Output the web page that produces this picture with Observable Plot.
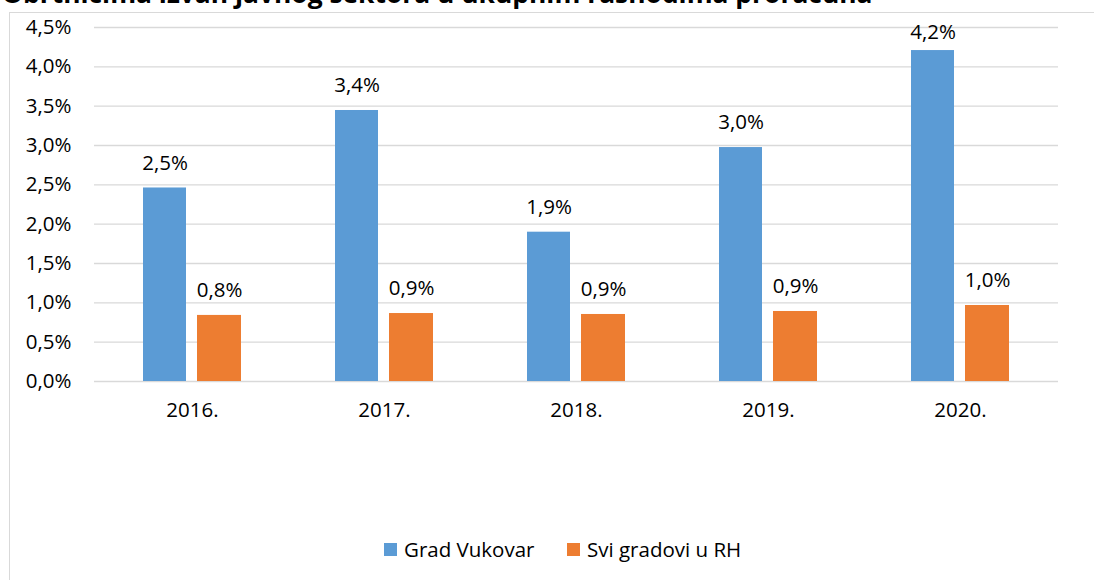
<!DOCTYPE html>
<html>
<head>
<meta charset="utf-8">
<script src="https://cdn.jsdelivr.net/npm/d3@7"></script>
<script src="https://cdn.jsdelivr.net/npm/@observablehq/plot@0.6"></script>
<style>
  html, body { margin: 0; padding: 0; background: #fff; }
  #wrap { position: relative; width: 1094px; height: 580px; overflow: hidden; font-family: "Open Sans", sans-serif; }
  #title { position: absolute; left: 2px; top: -24px; font-size: 26.4px; font-weight: bold; color: #000; white-space: nowrap; line-height: 34px; }
  #frame { position: absolute; left: 9px; top: 12px; width: 1200px; height: 700px; border: 1.5px solid #D9D9D9; box-sizing: border-box; }
  #chart { position: absolute; left: 0; top: 0; }
  #legend { position: absolute; top: 535px; left: 0; width: 1094px; height: 28px; font-size: 20.5px; color: #000; }
  .item { position: absolute; top: 0; display: flex; align-items: center; height: 28px; }
  .sw { width: 13px; height: 13px; margin-right: 7px; }
</style>
</head>
<body>
<div id="wrap">
  <div id="title">Obrtnicima izvan javnog sektora u ukupnim rashodima proračuna</div>
  <div id="frame"></div>
  <div id="chart"></div>
  <div id="legend"></div>
</div>
<script>
const years = ["2016.", "2017.", "2018.", "2019.", "2020."];
const seriesNames = ["Grad Vukovar", "Svi gradovi u RH"];
const vukovar = [2.46, 3.445, 1.898, 2.974, 4.207];
const sviGradovi = [0.84, 0.864, 0.852, 0.89, 0.966];
const colors = ["#5B9BD5", "#ED7D31"];
const yTicks = [0, 0.5, 1, 1.5, 2, 2.5, 3, 3.5, 4, 4.5];

const fmt = v => v.toFixed(1).replace(".", ",") + "%";
// keep data labels inside the plotting area (as the spreadsheet does)
const labelY = d => Math.min(d.value, 4.12);

const dataA = years.map((y, i) => ({year: y, value: vukovar[i], series: seriesNames[0]}));
const dataB = years.map((y, i) => ({year: y, value: sviGradovi[i], series: seriesNames[1]}));

const chart = Plot.plot({
  width: 1094,
  height: 450,
  marginLeft: 94,
  marginRight: 36,
  marginTop: 27,
  marginBottom: 69,
  style: { fontFamily: "Open Sans, sans-serif", fontSize: "20.5px", color: "#000", background: "transparent", overflow: "visible" },
  x: { domain: years, paddingInner: 0.49, paddingOuter: 0.245, label: null, tickSize: 0, tickPadding: 21 },
  y: { domain: [0, 4.5], ticks: yTicks, tickFormat: fmt, label: null, tickSize: 0, tickPadding: 23 },
  marks: [
    Plot.gridY(yTicks, { stroke: "#D9D9D9", strokeOpacity: 1, strokeWidth: 1.4 }),
    Plot.barY(dataA, { x: "year", y: "value", fill: colors[0], insetRight: 55 }),
    Plot.barY(dataB, { x: "year", y: "value", fill: colors[1], insetLeft: 54 }),
    Plot.text(dataA, { x: "year", y: labelY, text: d => fmt(d.value), dx: -27.5, dy: -25, fill: "#000", fontSize: 20.5 }),
    Plot.text(dataB, { x: "year", y: labelY, text: d => fmt(d.value), dx: 27, dy: -25, fill: "#000", fontSize: 20.5 })
  ]
});
document.getElementById("chart").appendChild(chart);

const legend = document.getElementById("legend");
const lefts = [384, 567];
seriesNames.forEach((name, i) => {
  const item = document.createElement("div");
  item.className = "item";
  item.style.left = lefts[i] + "px";
  const sw = document.createElement("div");
  sw.className = "sw";
  sw.style.background = colors[i];
  const t = document.createElement("span");
  t.textContent = name;
  item.appendChild(sw);
  item.appendChild(t);
  legend.appendChild(item);
});
</script>
</body>
</html>
